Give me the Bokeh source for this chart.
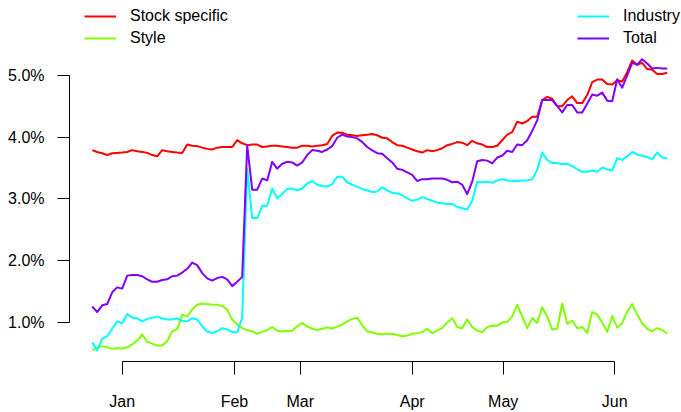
from bokeh.plotting import figure
from bokeh.models import Range1d, FixedTicker, PrintfTickFormatter, Legend, LegendItem
from bokeh.embed import file_html
from bokeh.resources import INLINE

# ---- data (risk contributions, %) ----
stock_specific = [3.79,3.76,3.74,3.71,3.74,3.745,3.75,3.76,3.79,3.77,
 3.76,3.745,3.71,3.69,3.79,3.77,3.76,3.75,3.745,3.88,
 3.86,3.855,3.83,3.81,3.80,3.83,3.84,3.84,3.84,3.95,
 3.90,3.87,3.88,3.88,3.84,3.85,3.86,3.86,3.85,3.84,
 3.83,3.83,3.86,3.86,3.85,3.86,3.87,3.89,4.02,4.075,
 4.07,4.04,4.03,4.02,4.03,4.04,4.05,4.03,3.99,3.98,
 3.92,3.87,3.86,3.83,3.80,3.77,3.75,3.79,3.77,3.79,
 3.82,3.87,3.89,3.92,3.91,3.87,3.94,3.90,3.88,3.84,
 3.84,3.86,3.95,4.04,4.08,4.25,4.22,4.26,4.33,4.33,
 4.60,4.65,4.62,4.50,4.50,4.60,4.66,4.55,4.55,4.68,
 4.89,4.93,4.93,4.86,4.85,4.92,4.90,5.05,5.24,5.17,
 5.20,5.10,5.09,5.02,5.02,5.04]

style = [0.55,0.59,0.62,0.60,0.575,0.59,0.58,0.60,0.645,0.71,
 0.81,0.69,0.66,0.63,0.63,0.70,0.86,0.89,1.13,1.10,
 1.21,1.29,1.31,1.30,1.29,1.29,1.27,1.21,1.05,0.97,
 0.91,0.875,0.86,0.82,0.85,0.88,0.93,0.87,0.855,0.865,
 0.87,0.94,0.995,0.935,0.90,0.88,0.90,0.92,0.905,0.935,
 0.97,1.02,1.06,1.08,0.955,0.86,0.84,0.82,0.81,0.82,
 0.82,0.80,0.78,0.79,0.82,0.83,0.845,0.90,0.83,0.87,
 0.91,1.00,1.07,0.93,0.91,1.05,0.93,0.87,0.845,0.93,
 0.95,0.95,1.00,1.01,1.10,1.29,1.10,0.91,1.075,0.995,
 1.25,1.10,0.89,0.90,1.31,0.98,1.03,0.91,0.93,0.83,
 1.17,1.13,1.00,0.85,1.11,0.92,0.99,1.18,1.30,1.13,
 0.99,0.90,0.86,0.91,0.88,0.82]

industry = [0.68,0.55,0.74,0.78,0.90,1.02,0.99,1.14,1.08,1.07,
 1.02,1.06,1.08,1.10,1.07,1.05,1.05,1.07,1.03,1.02,
 1.07,1.05,0.94,0.855,0.83,0.86,0.91,0.89,0.85,0.84,
 1.08,3.49,2.69,2.69,2.89,2.89,3.17,3.01,3.08,3.16,
 3.17,3.14,3.17,3.25,3.29,3.23,3.21,3.20,3.24,3.36,
 3.36,3.27,3.23,3.20,3.16,3.14,3.11,3.12,3.19,3.14,
 3.10,3.09,3.06,3.01,2.97,2.99,3.03,3.00,2.97,2.94,
 2.93,2.92,2.92,2.87,2.85,2.83,2.97,3.28,3.27,3.28,
 3.26,3.30,3.32,3.30,3.29,3.29,3.30,3.30,3.32,3.47,
 3.75,3.63,3.58,3.58,3.56,3.57,3.53,3.48,3.44,3.44,
 3.46,3.44,3.51,3.48,3.46,3.66,3.63,3.69,3.76,3.72,
 3.70,3.68,3.64,3.75,3.67,3.66]

total = [1.26,1.17,1.28,1.30,1.49,1.57,1.55,1.76,1.77,1.77,
 1.75,1.70,1.66,1.66,1.69,1.70,1.75,1.76,1.81,1.87,
 1.97,1.93,1.80,1.715,1.68,1.72,1.74,1.70,1.59,1.66,
 1.74,3.87,3.15,3.15,3.33,3.30,3.60,3.49,3.57,3.60,
 3.59,3.54,3.59,3.71,3.79,3.78,3.76,3.80,3.855,3.99,
 4.04,4.01,4.00,3.98,3.92,3.84,3.785,3.74,3.73,3.66,
 3.59,3.49,3.47,3.43,3.39,3.29,3.32,3.32,3.33,3.33,
 3.33,3.31,3.27,3.28,3.23,3.08,3.28,3.61,3.63,3.62,
 3.575,3.67,3.70,3.78,3.76,3.88,3.87,3.95,4.10,4.27,
 4.60,4.60,4.60,4.50,4.40,4.52,4.52,4.40,4.40,4.54,
 4.69,4.67,4.72,4.59,4.58,4.935,4.80,5.00,5.20,5.17,
 5.26,5.19,5.11,5.12,5.11,5.11]

obs = list(range(len(total)))          # observation index

month_labels = ["Jan", "Feb", "Mar", "Apr", "May", "Jun"]
month_ticks = [6.0, 28.45, 41.6, 64.0, 82.2, 104.5]   # in observation units
y_ticks = [1.0, 2.0, 3.0, 4.0, 5.0]

series_names = ["Stock specific", "Style", "Industry", "Total"]
series_colors = ["#FF0000", "#80FF00", "#00FFFF", "#8000FF"]

FONT = "Liberation Sans"

p = figure(width=681, height=412, output_backend="svg", toolbar_location=None,
           x_range=Range1d(-4.54, 117.86), y_range=Range1d(0.371, 6.2097),
           min_border_left=69, min_border_right=0, min_border_top=0,
           min_border_bottom=50)
p.outline_line_color = None
p.xgrid.visible = False
p.ygrid.visible = False
p.background_fill_color = "white"
p.border_fill_color = "white"

renderers = []
for ys, col in zip([stock_specific, style, industry, total], series_colors):
    r = p.line(obs, ys, line_color=col, line_width=2, line_join="round")
    renderers.append(r)

# axes
for ax in (p.xaxis[0], p.yaxis[0]):
    ax.axis_line_color = "black"
    ax.axis_line_width = 1
    ax.major_tick_line_color = "black"
    ax.minor_tick_line_color = None
    ax.major_tick_in = 0
    ax.major_label_text_font = FONT
    ax.major_label_text_font_size = "16px"
    ax.major_label_text_color = "black"

p.yaxis.ticker = FixedTicker(ticks=y_ticks)
p.yaxis.formatter = PrintfTickFormatter(format="%.1f%%")
p.yaxis.bounds = (y_ticks[0], y_ticks[-1])
p.yaxis.major_tick_out = 12
p.yaxis.major_label_standoff = 13

p.xaxis.ticker = FixedTicker(ticks=month_ticks)
p.xaxis.major_label_overrides = {t: l for t, l in zip(month_ticks, month_labels)}
p.xaxis.bounds = (month_ticks[0], month_ticks[-1])
p.xaxis.major_tick_out = 13
p.xaxis.major_label_standoff = 18


def make_legend(idx, loc):
    leg = Legend(items=[LegendItem(label=series_names[i], renderers=[renderers[i]]) for i in idx],
                 location=loc, orientation="vertical")
    leg.padding = 0
    leg.margin = 0
    leg.spacing = 0
    leg.glyph_width = 32
    leg.glyph_height = 22
    leg.label_height = 22
    leg.label_standoff = 14
    leg.label_text_font = FONT
    leg.label_text_font_size = "16px"
    leg.label_text_color = "black"
    leg.border_line_color = None
    leg.background_fill_alpha = 0
    return leg


p.add_layout(make_legend([0, 1], (15, 312)), "center")
p.add_layout(make_legend([2, 3], (508, 312)), "center")

open("out.html", "w").write(file_html(p, INLINE))
